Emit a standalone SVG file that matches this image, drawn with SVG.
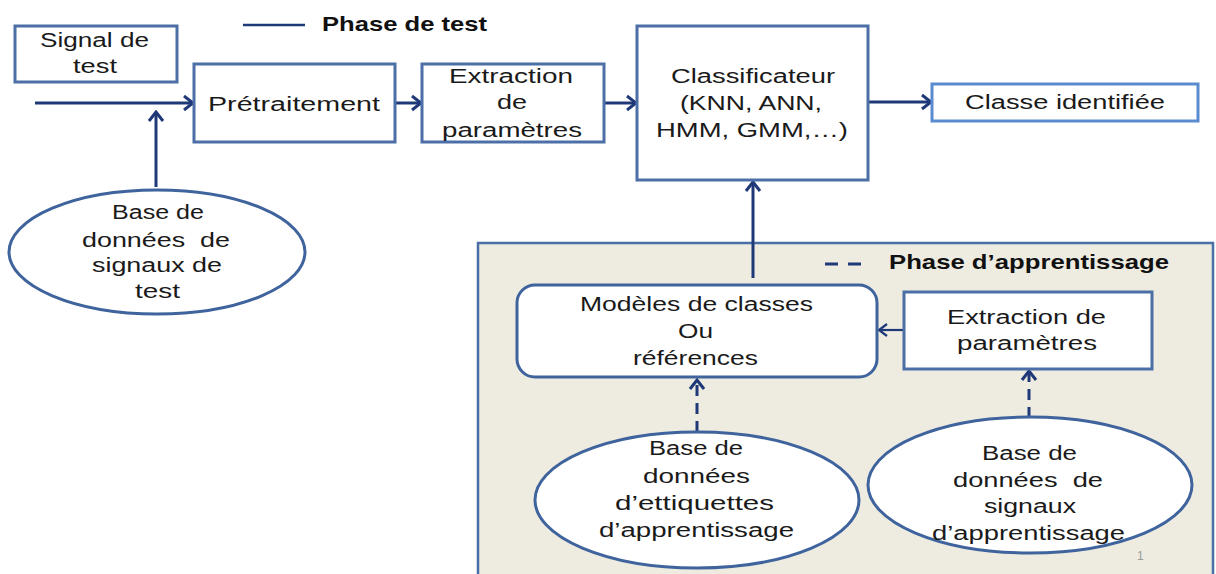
<svg xmlns="http://www.w3.org/2000/svg" width="1216" height="574" viewBox="0 0 1216 574">
<defs>
<style>
.t{font-family:"Liberation Sans",Arial,sans-serif;font-size:20px;fill:#1a1a1a}
.b{font-family:"Liberation Sans",Arial,sans-serif;font-size:21px;font-weight:bold;fill:#111}
.box{fill:#fff;stroke:#4b6fa6;stroke-width:3}
.c{stroke:#1f3978;stroke-width:3;fill:none}
.d{stroke:#1f3978;stroke-width:3;fill:none;stroke-dasharray:11 7}
</style>
<marker id="arr" markerUnits="userSpaceOnUse" markerWidth="14" markerHeight="18" refX="12" refY="9" orient="auto" viewBox="0 0 14 18">
<path d="M3,2 L12,9 L3,16" fill="none" stroke="#1f3978" stroke-width="3"/>
</marker>
<marker id="arrs" markerUnits="userSpaceOnUse" markerWidth="14" markerHeight="18" refX="12" refY="9" orient="auto" viewBox="0 0 14 18">
<path d="M4,3 L12,9 L4,15" fill="none" stroke="#1f3978" stroke-width="2.2"/>
</marker>
</defs>
<rect width="1216" height="574" fill="#fff"/>

<g id="learning-frame">
<rect x="478" y="243" width="735" height="345" fill="#eeece1" stroke="#4a6ea8" stroke-width="2.5"/>
</g>

<g id="legend-test">
<line x1="243" y1="25" x2="305" y2="25" stroke="#1f3978" stroke-width="2.5"/>
<text class="b" x="322" y="31" textLength="165" lengthAdjust="spacingAndGlyphs">Phase de test</text>
</g>
<g id="legend-learning">
<line x1="825" y1="264" x2="868" y2="264" stroke="#1f3978" stroke-width="3" stroke-dasharray="13 10"/>
<text class="b" x="889" y="269" textLength="280" lengthAdjust="spacingAndGlyphs">Phase d’apprentissage</text>
</g>

<g id="connectors">
<line class="c" x1="35" y1="103" x2="193" y2="103" marker-end="url(#arr)"/>
<line class="c" x1="156" y1="187" x2="156" y2="112" marker-end="url(#arr)"/>
<line class="c" x1="395" y1="103" x2="421" y2="103" marker-end="url(#arr)"/>
<line class="c" x1="604" y1="103" x2="636" y2="103" marker-end="url(#arr)"/>
<line class="c" x1="868" y1="102" x2="931" y2="102" marker-end="url(#arr)"/>
<line class="c" x1="753" y1="278" x2="753" y2="182" marker-end="url(#arr)"/>
<line x1="904" y1="330" x2="879" y2="330" stroke="#1f3978" stroke-width="2.2" marker-end="url(#arrs)"/>
<line class="d" x1="697" y1="432" x2="697" y2="380" marker-end="url(#arr)"/>
<line class="d" x1="1029" y1="418" x2="1029" y2="371" marker-end="url(#arr)"/>
</g>

<g id="signal-test">
<rect class="box" x="15" y="26" width="162" height="56"/>
<text class="t" x="40" y="47" textLength="109" lengthAdjust="spacingAndGlyphs">Signal de</text>
<text class="t" x="73" y="73" textLength="44" lengthAdjust="spacingAndGlyphs">test</text>
</g>

<g id="pretraitement">
<rect class="box" x="194" y="64" width="201" height="78"/>
<text class="t" x="208" y="111" textLength="172" lengthAdjust="spacingAndGlyphs">Prétraitement</text>
</g>

<g id="extraction-test">
<rect class="box" x="422" y="64" width="182" height="78"/>
<text class="t" x="449" y="83" textLength="124" lengthAdjust="spacingAndGlyphs">Extraction</text>
<text class="t" x="497" y="109" textLength="30" lengthAdjust="spacingAndGlyphs">de</text>
<text class="t" x="442" y="137" textLength="140" lengthAdjust="spacingAndGlyphs">paramètres</text>
</g>

<g id="classificateur">
<rect class="box" x="637" y="26" width="231" height="154"/>
<text class="t" x="671" y="83" textLength="164" lengthAdjust="spacingAndGlyphs">Classificateur</text>
<text class="t" x="680" y="110" textLength="142" lengthAdjust="spacingAndGlyphs">(KNN, ANN,</text>
<text class="t" x="656" y="137" textLength="192" lengthAdjust="spacingAndGlyphs">HMM, GMM,…)</text>
</g>

<g id="classe-identifiee">
<rect x="932" y="84" width="266" height="37" fill="#fff" stroke="#5a8bd0" stroke-width="3"/>
<text class="t" x="965" y="109" textLength="200" lengthAdjust="spacingAndGlyphs">Classe identifiée</text>
</g>

<g id="bd-test">
<ellipse cx="157" cy="252" rx="148" ry="62" fill="#fff" stroke="#3f639c" stroke-width="3"/>
<text class="t" x="112" y="219" textLength="92" lengthAdjust="spacingAndGlyphs">Base de</text>
<text class="t" x="82" y="247" textLength="148" lengthAdjust="spacingAndGlyphs">données&#160; de</text>
<text class="t" x="92" y="272" textLength="130" lengthAdjust="spacingAndGlyphs">signaux de</text>
<text class="t" x="135" y="298" textLength="45" lengthAdjust="spacingAndGlyphs">test</text>
</g>

<g id="modeles">
<rect x="517" y="285" width="360" height="92" rx="18" ry="18" fill="#fff" stroke="#3f639c" stroke-width="3"/>
<text class="t" x="580" y="311" textLength="233" lengthAdjust="spacingAndGlyphs">Modèles de classes</text>
<text class="t" x="678" y="338" textLength="35" lengthAdjust="spacingAndGlyphs">Ou</text>
<text class="t" x="633" y="365" textLength="125" lengthAdjust="spacingAndGlyphs">références</text>
</g>

<g id="extraction-learning">
<rect class="box" x="904" y="292" width="248" height="77"/>
<text class="t" x="947" y="324" textLength="159" lengthAdjust="spacingAndGlyphs">Extraction de</text>
<text class="t" x="957" y="350" textLength="140" lengthAdjust="spacingAndGlyphs">paramètres</text>
</g>

<g id="bd-etiquettes">
<ellipse cx="697" cy="500" rx="162" ry="68" fill="#fff" stroke="#3f639c" stroke-width="3"/>
<text class="t" x="649" y="455" textLength="94" lengthAdjust="spacingAndGlyphs">Base de</text>
<text class="t" x="643" y="483" textLength="107" lengthAdjust="spacingAndGlyphs">données</text>
<text class="t" x="615" y="510" textLength="159" lengthAdjust="spacingAndGlyphs">d’ettiquettes</text>
<text class="t" x="599" y="537" textLength="195" lengthAdjust="spacingAndGlyphs">d’apprentissage</text>
</g>

<g id="bd-signaux-learning">
<ellipse cx="1030" cy="485" rx="162" ry="68" fill="#fff" stroke="#3f639c" stroke-width="3"/>
<text class="t" x="982" y="460" textLength="95" lengthAdjust="spacingAndGlyphs">Base de</text>
<text class="t" x="953" y="487" textLength="150" lengthAdjust="spacingAndGlyphs">données&#160; de</text>
<text class="t" x="984" y="513" textLength="92" lengthAdjust="spacingAndGlyphs">signaux</text>
<text class="t" x="932" y="540" textLength="193" lengthAdjust="spacingAndGlyphs">d’apprentissage</text>
</g>

<text x="1137" y="560" font-family="Liberation Sans,Arial,sans-serif" font-size="12" fill="#999">1</text>
</svg>
